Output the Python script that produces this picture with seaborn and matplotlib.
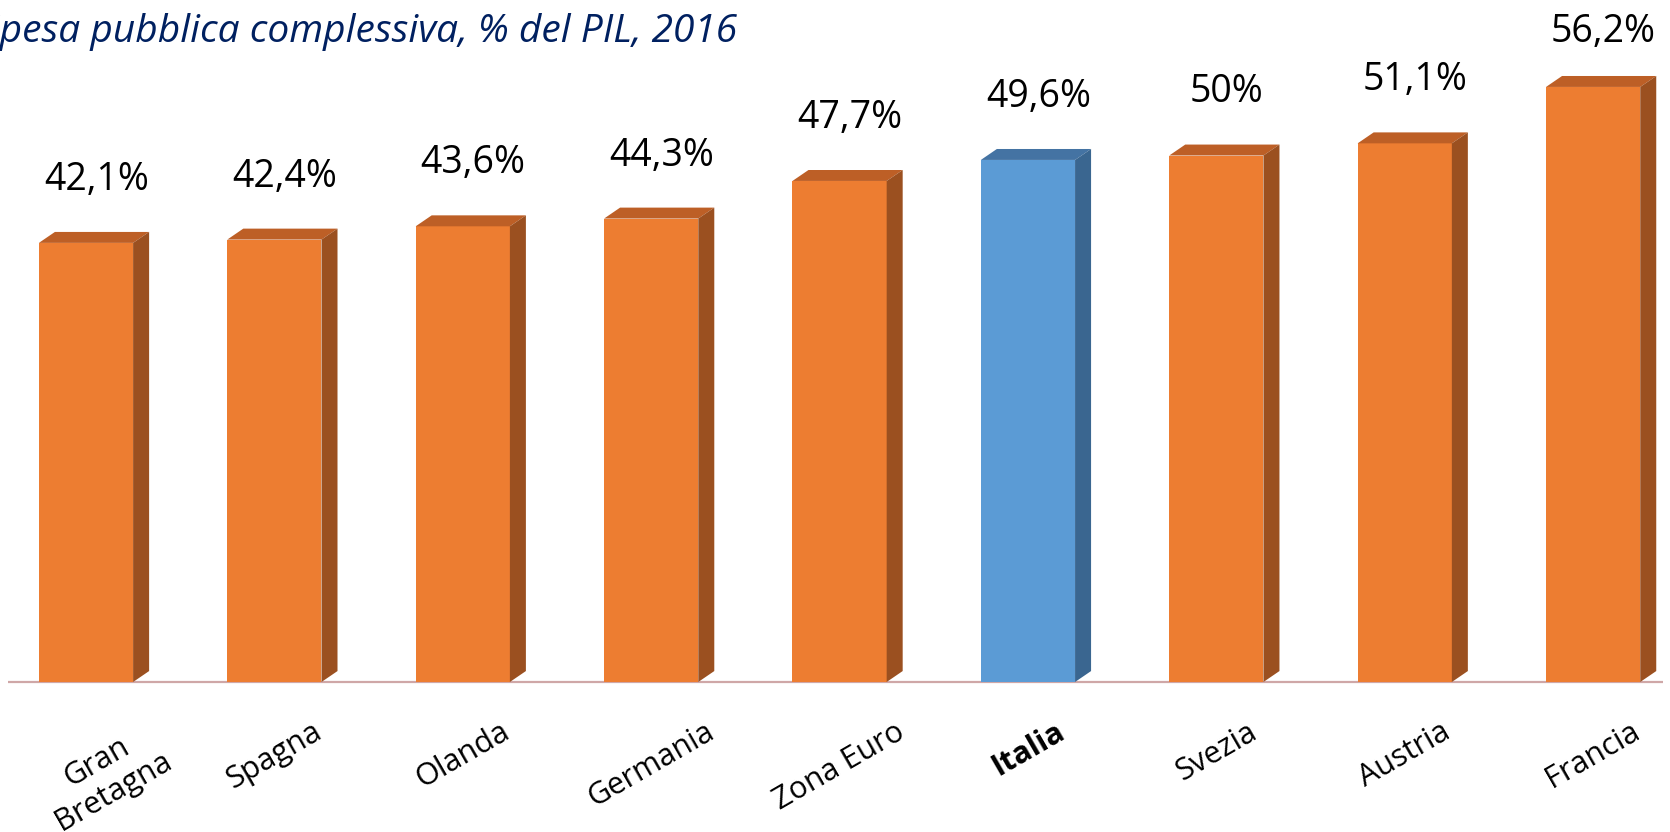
import matplotlib
matplotlib.use("Agg")
import matplotlib.pyplot as plt
from matplotlib.patches import Polygon
import seaborn as sns

categories = ["Gran\nBretagna", "Spagna", "Olanda", "Germania", "Zona Euro",
              "Italia", "Svezia", "Austria", "Francia"]
values = [42.1, 42.4, 43.6, 44.3, 47.7, 49.6, 50.0, 51.1, 56.2]
value_labels = ["42,1%", "42,4%", "43,6%", "44,3%", "47,7%", "49,6%", "50%", "51,1%", "56,2%"]
title = "Spesa pubblica complessiva, % del PIL, 2016"
highlight = "Italia"

ORANGE = ("#ED7D31", "#BD5F26", "#9B5020")
BLUE = ("#5B9BD5", "#4473A3", "#3A6690")

sns.set_theme(style="white")
plt.rcParams["font.family"] = ["Open Sans", "DejaVu Sans"]

fig = plt.figure(figsize=(16.7, 8.32), dpi=100)
ax = fig.add_axes([0, 150 / 832, 1, 682 / 832])

ymin, ymax = 2.4, 64.06

pal = {c: (BLUE[0] if c == highlight else ORANGE[0]) for c in categories}
sns.barplot(x=categories, y=values, hue=categories, palette=pal, width=0.5,
            saturation=1, legend=False, ax=ax, zorder=3, linewidth=0,
            edgecolor="none")
ax.set_xlim(-0.4565, 8.408)
ax.set_ylim(ymin, ymax)

# baseline
ax.hlines(ymin, -0.414, 8.37, color="#CFA7A7", lw=1.6, zorder=1, clip_on=False)

# 3D faces
dx, dy = 0.085, 0.99
w = 0.5
for i, (c, v) in enumerate(zip(categories, values)):
    cols = BLUE if c == highlight else ORANGE
    xl, xr = i - w / 2, i + w / 2
    top = Polygon([(xl, v), (xl + dx, v + dy), (xr + dx, v + dy), (xr, v)],
                  closed=True, facecolor=cols[1], edgecolor="none", zorder=3)
    side = Polygon([(xr, ymin), (xr + dx, ymin + dy), (xr + dx, v + dy), (xr, v)],
                   closed=True, facecolor=cols[2], edgecolor="none", zorder=3)
    ax.add_patch(top)
    ax.add_patch(side)
    ylab = min(v + 5.7, ymax - 2.9)
    ax.text(i + 0.055, ylab, value_labels[i], ha="center", va="center",
            fontsize=27, color="black", clip_on=False)

# category labels (rotated, top-aligned under each bar)
ax.set_xticks(range(len(categories)))
ax.set_xticklabels([""] * len(categories))
for i, c in enumerate(categories):
    xoff = 14 if "\n" in c else 0
    ax.annotate(c, xy=(i, 0), xycoords=("data", "axes fraction"),
                xytext=(xoff, -25), textcoords="offset points",
                rotation=30, ha="center", va="top", multialignment="center",
                fontsize=22, color="black",
                fontweight="bold" if c == highlight else "normal",
                annotation_clip=False)
ax.tick_params(axis="x", length=0)
ax.set_yticks([])
ax.set_xlabel("")
ax.set_ylabel("")
for s in ax.spines.values():
    s.set_visible(False)

fig.text(-20 / 1670, 1 - 42 / 832, title, fontsize=28, style="italic",
         color="#002060", ha="left", va="baseline")

fig.savefig("out.png", dpi=100)
